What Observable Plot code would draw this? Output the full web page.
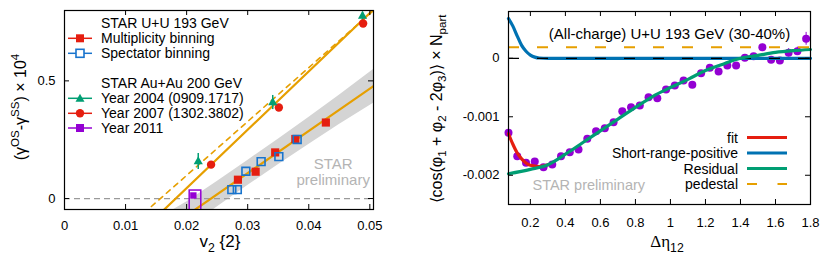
<!DOCTYPE html>
<html><head><meta charset="utf-8">
<script src="https://cdn.jsdelivr.net/npm/d3@7"></script>
<script src="https://cdn.jsdelivr.net/npm/@observablehq/plot@0.6"></script>
<style>
body{margin:0;background:#fff;}
#wrap{position:relative;width:830px;height:259px;overflow:hidden;background:#fff;}
#left,#right{position:absolute;top:0;}
#left{left:0;} #right{left:410px;}
svg text{font-family:"Liberation Sans",Arial,Helvetica,sans-serif;}
</style></head><body>
<div id="wrap"><div id="left"></div><div id="right"></div></div>
<script>
// ================= LEFT PANEL DATA =================
const multX = [0.0284, 0.0313, 0.0345, 0.0378, 0.0428];
const multY = [0.080, 0.114, 0.196, 0.253, 0.323];
const specX = [0.0274, 0.0283, 0.0297, 0.0322, 0.0351, 0.0381];
const specY = [0.038, 0.038, 0.116, 0.157, 0.178, 0.251];
const y2004X = [0.0219, 0.0341, 0.0488];
const y2004Y = [0.157, 0.408, 0.775];
const y2004Err = [0.034, 0.030, 0.017];
const y2007X = [0.0240, 0.0351, 0.0489];
const y2007Y = [0.144, 0.387, 0.744];
const y2011X = [0.0211];
const y2011Y = [0.013];
const y2011BoxX = [0.0205, 0.0224];
const y2011BoxY = [-0.06, 0.034];
const fitUUX = [0.0205, 0.0506];
const fitUUY = [-0.063, 0.478];
const fitAuX = [0.0160, 0.0506];
const fitAuY = [-0.055, 0.803];
const fitAuDashX = [0.0130, 0.0506];
const fitAuDashY = [-0.062, 0.799];
const bandX  = [0.015, 0.020, 0.025, 0.030, 0.035, 0.040, 0.045, 0.0506];
const bandLo = [-0.226, -0.130, -0.036, 0.055, 0.144, 0.230, 0.315, 0.405];
const bandHi = [-0.090, -0.015, 0.072, 0.162, 0.252, 0.344, 0.439, 0.548];
const leftXTicks = [0, 0.01, 0.02, 0.03, 0.04, 0.05];
const leftXLabels = ["0", "0.01", "0.02", "0.03", "0.04", "0.05"];
const leftYTicks = [0, 0.5];
const leftYLabels = ["0", "0.5"];
const leftLegend = ["STAR U+U 193 GeV", "Multiplicity binning", "Spectator binning", "STAR Au+Au 200 GeV", "Year 2004 (0909.1717)", "Year 2007 (1302.3802)", "Year 2011"];

// ================= RIGHT PANEL DATA =================
const detaX = [0.075,0.125,0.175,0.225,0.275,0.325,0.375,0.425,0.475,0.525,0.575,0.625,0.675,0.725,0.775,0.825,0.875,0.925,0.975,1.025,1.075,1.125,1.175,1.225,1.275,1.325,1.375,1.425,1.475,1.525,1.575,1.625,1.675,1.725,1.775];
const corrY = [-1.274e-3,-1.674e-3,-1.786e-3,-1.764e-3,-1.862e-3,-1.815e-3,-1.674e-3,-1.605e-3,-1.559e-3,-1.376e-3,-1.246e-3,-1.195e-3,-1.092e-3,-0.904e-3,-0.836e-3,-0.807e-3,-0.665e-3,-0.682e-3,-0.533e-3,-0.465e-3,-0.379e-3,-0.453e-3,-0.255e-3,-0.162e-3,-0.226e-3,-0.123e-3,-0.123e-3,0.009e-3,0.036e-3,0.190e-3,-0.026e-3,-0.038e-3,0.094e-3,0.121e-3,0.333e-3];
const corrErr = [0.03e-3,0.03e-3,0.03e-3,0.03e-3,0.03e-3,0.03e-3,0.03e-3,0.03e-3,0.03e-3,0.03e-3,0.03e-3,0.03e-3,0.03e-3,0.03e-3,0.03e-3,0.03e-3,0.03e-3,0.03e-3,0.03e-3,0.03e-3,0.03e-3,0.03e-3,0.03e-3,0.03e-3,0.03e-3,0.04e-3,0.04e-3,0.04e-3,0.04e-3,0.05e-3,0.05e-3,0.05e-3,0.07e-3,0.07e-3,0.11e-3];
const fitX = [0.075, 0.1, 0.125, 0.15, 0.175, 0.2, 0.25, 0.3];
const fitY = [-1.29e-3, -1.47e-3, -1.62e-3, -1.72e-3, -1.79e-3, -1.83e-3, -1.85e-3, -1.82e-3];
const srpX = [0.075, 0.1, 0.125, 0.15, 0.175, 0.2, 0.225, 0.25, 0.3, 1.8];
const srpY = [0.68e-3, 0.55e-3, 0.38e-3, 0.22e-3, 0.12e-3, 0.055e-3, 0.02e-3, 0.005e-3, 0, 0];
const resX = [0.075, 0.2, 0.3, 0.4, 0.5, 0.6, 0.7, 0.8, 0.9, 1.0, 1.1, 1.2, 1.3, 1.4, 1.5, 1.6, 1.7, 1.8];
const resY = [-1.975e-3, -1.90e-3, -1.82e-3, -1.64e-3, -1.44e-3, -1.24e-3, -1.04e-3, -0.84e-3, -0.65e-3, -0.50e-3, -0.36e-3, -0.21e-3, -0.10e-3, 0.0, 0.05e-3, 0.10e-3, 0.13e-3, 0.15e-3];
const pedestalY = [0.19e-3];
const rightXTicks = [0.2, 0.4, 0.6, 0.8, 1, 1.2, 1.4, 1.6, 1.8];
const rightXLabels = ["0.2", "0.4", "0.6", "0.8", "1", "1.2", "1.4", "1.6", "1.8"];
const rightYTicks = [0, -0.001, -0.002];
const rightYLabels = ["0", "-0.001", "-0.002"];
const rightLegend = ["fit", "Short-range-positive", "Residual", "pedestal"];

// ================= COLORS =================
const RED = "#e51e10", BLUE = "#1874cd", GREEN = "#009e73", PURPLE = "#9400d3", ORANGE = "#e69f00";
const SRPBLUE = "#0072b2";

const FONT = '"Liberation Sans", Arial, Helvetica, sans-serif';
const zip = (xs, ys, extra = {}) => xs.map((x, i) => {
  const o = {x, y: ys[i]};
  for (const k in extra) o[k] = extra[k][i];
  return o;
});

// ================= LEFT PLOT =================
const L = {w: 410, h: 259, mt: 10, mr: 37, mb: 50, ml: 64};
const LiW = L.w - L.ml - L.mr, LiH = L.h - L.mt - L.mb;
const labelOf = (ticks, labels) => d => labels[ticks.indexOf(d)];

const band = bandX.map((x, i) => ({x, lo: bandLo[i], hi: bandHi[i]}));
const left = Plot.plot({
  width: L.w, height: L.h,
  marginTop: L.mt, marginRight: L.mr, marginBottom: L.mb, marginLeft: L.ml,
  style: {fontSize: "13px", fontFamily: FONT, background: "white", color: "black"},
  x: {domain: [0, 0.0506]},
  y: {domain: [-0.0466, 0.799]},
  marks: [
    Plot.areaY(band, {x: "x", y1: "lo", y2: "hi", fill: "#d4d4d4", clip: true}),
    Plot.ruleY([0], {stroke: "#9a9a9a", strokeWidth: 1.2, strokeDasharray: "6,4"}),
    Plot.line(zip(fitUUX, fitUUY), {x: "x", y: "y", stroke: ORANGE, strokeWidth: 2.2, clip: true}),
    Plot.line(zip(fitAuX, fitAuY), {x: "x", y: "y", stroke: ORANGE, strokeWidth: 2.2, clip: true}),
    Plot.line(zip(fitAuDashX, fitAuDashY), {x: "x", y: "y", stroke: ORANGE, strokeWidth: 1.6, strokeDasharray: "5,5", clip: true}),
    Plot.rect([{x1: y2011BoxX[0], x2: y2011BoxX[1], y1: y2011BoxY[0], y2: y2011BoxY[1]}], {x1: "x1", x2: "x2", y1: "y1", y2: "y2", fill: "none", stroke: PURPLE, strokeWidth: 1.5, clip: true}),
    Plot.dot(zip(y2011X, y2011Y), {x: "x", y: "y", symbol: "square", r: 3.6, fill: PURPLE}),
    Plot.ruleX(zip(y2004X, y2004Y, {e: y2004Err}), {x: "x", y1: d => d.y - d.e, y2: d => d.y + d.e, stroke: GREEN, strokeWidth: 1.5}),
    Plot.dot(zip(y2007X, y2007Y), {x: "x", y: "y", r: 4.2, fill: RED}),
    Plot.dot(zip(y2004X, y2004Y), {x: "x", y: "y", symbol: "triangle", r: 3.4, fill: GREEN}),
    Plot.dot(zip(multX, multY), {x: "x", y: "y", symbol: "square", r: 4.6, fill: RED}),
    Plot.dot(zip(specX, specY), {x: "x", y: "y", symbol: "square", r: 4.4, fill: "none", stroke: BLUE, strokeWidth: 1.6}),
    Plot.text(["STAR", "preliminary"], {x: 0.0440, y: [0.145, 0.078], text: d => d, fill: "#b4b4b4", fontSize: 15, frameAnchor: "middle"}),
    Plot.frame({stroke: "black", strokeWidth: 1.2}),
    Plot.tickX(leftXTicks, {x: d => d, insetTop: LiH - 5, stroke: "black"}),
    Plot.tickX(leftXTicks, {x: d => d, insetBottom: LiH - 5, stroke: "black"}),
    Plot.tickY(leftYTicks, {y: d => d, insetRight: LiW - 5, stroke: "black"}),
    Plot.tickY(leftYTicks, {y: d => d, insetLeft: LiW - 5, stroke: "black"}),
    Plot.axisX(leftXTicks, {tickSize: 0, tickPadding: 11, tickFormat: labelOf(leftXTicks, leftXLabels), label: null, fontSize: 13}),
    Plot.axisY(leftYTicks, {tickSize: 0, tickPadding: 9, tickFormat: labelOf(leftYTicks, leftYLabels), label: null, fontSize: 13})
  ]
});
document.getElementById("left").appendChild(left);

// ================= RIGHT PLOT =================
const R = {w: 420, h: 259, mt: 11, mr: 20, mb: 55, ml: 98};
const RiW = R.w - R.ml - R.mr, RiH = R.h - R.mt - R.mb;
const pts = zip(detaX, corrY, {e: corrErr});
const right = Plot.plot({
  width: R.w, height: R.h,
  marginTop: R.mt, marginRight: R.mr, marginBottom: R.mb, marginLeft: R.ml,
  style: {fontSize: "13px", fontFamily: FONT, background: "white", color: "black"},
  x: {domain: [0.075, 1.8]},
  y: {domain: [-0.0025, 0.0008]},
  marks: [
    Plot.ruleX(pts, {x: "x", y1: d => d.y - d.e, y2: d => d.y + d.e, stroke: PURPLE, strokeWidth: 1}),
    Plot.dot(pts, {x: "x", y: "y", r: 4, fill: PURPLE}),
    Plot.line(zip(fitX, fitY), {x: "x", y: "y", stroke: RED, strokeWidth: 3.2, curve: "monotone-x"}),
    Plot.line(zip(srpX, srpY), {x: "x", y: "y", stroke: SRPBLUE, strokeWidth: 3.2, curve: "monotone-x"}),
    Plot.ruleY([0], {stroke: "black", strokeWidth: 1.3, strokeDasharray: "11,18"}),
    Plot.line(zip(resX, resY), {x: "x", y: "y", stroke: GREEN, strokeWidth: 3.2, curve: "monotone-x"}),
    Plot.ruleY(pedestalY, {stroke: ORANGE, strokeWidth: 2, strokeDasharray: "11,18"}),
    Plot.text(["(All-charge) U+U 193 GeV (30-40%)"], {frameAnchor: "top", dx: 10, dy: 17, text: d => d, fontSize: 15}),
    Plot.text(["STAR preliminary"], {frameAnchor: "bottom-left", dx: 24, dy: -15, text: d => d, fill: "#b4b4b4", fontSize: 14.5, textAnchor: "start"}),
    Plot.frame({stroke: "black", strokeWidth: 1.2}),
    Plot.tickX(rightXTicks, {x: d => d, insetTop: RiH - 5, stroke: "black"}),
    Plot.tickX(rightXTicks, {x: d => d, insetBottom: RiH - 5, stroke: "black"}),
    Plot.tickY(rightYTicks, {y: d => d, insetRight: RiW - 5, stroke: "black"}),
    Plot.tickY(rightYTicks, {y: d => d, insetLeft: RiW - 5, stroke: "black"}),
    Plot.axisX(rightXTicks, {tickSize: 0, tickPadding: 13, tickFormat: labelOf(rightXTicks, rightXLabels), label: null, fontSize: 13}),
    Plot.axisY(rightYTicks, {tickSize: 0, tickPadding: 9, tickFormat: labelOf(rightYTicks, rightYLabels), label: null, fontSize: 13})
  ]
});
document.getElementById("right").appendChild(right);

// ================= TITLES & LEGENDS (SVG text) =================
function richText(svg, x, y, parts, opts = {}) {
  const base = opts.size || 16;
  const t = d3.select(svg).append("text")
    .attr("font-size", base)
    .attr("font-family", opts.family || FONT)
    .attr("fill", "black")
    .attr("text-anchor", opts.anchor || "middle");
  if (opts.rotate) t.attr("transform", `translate(${x},${y}) rotate(-90)`);
  else t.attr("transform", `translate(${x},${y})`);
  let shift = 0;
  for (const p of parts) {
    const [txt, kind, fam] = Array.isArray(p) ? p : [p, "n"];
    const target = kind === "sup" ? -0.42 : kind === "sub" ? 0.28 : 0;
    const s = t.append("tspan").text(txt);
    if (kind !== "n") s.attr("font-size", "72%");
    if (fam) s.attr("font-family", fam);
    s.attr("dy", ((target - shift) * base) + "px");
    shift = target;
  }
  return t;
}

// Left y title
richText(left, 26, 107, ["(γ", ["OS", "sup"], "-γ", ["SS", "sup"], ") × 10", ["4", "sup"]], {size: 16, rotate: true});
// Left x title
richText(left, 220, 247, ["v", ["2", "sub"], " {2}"], {size: 17});
// Right y title
richText(right, 442 - 410, 109, ["⟨cos(φ", ["1", "sub"], " + φ", ["2", "sub"], " - 2φ", ["3", "sub"], ")⟩ × N", ["part", "sub"]], {size: 16, rotate: true});
// Right x title
richText(right, 667 - 410, 247, [["Δη", "n", '"Liberation Serif", "DejaVu Serif", serif'], ["12", "sub"]], {size: 17});

// Left legend
{
  const g = d3.select(left).append("g").attr("text-anchor", "start");
  const ys = [28.3, 43.3, 58.3, 88.3, 103.3, 118.3, 133];
  leftLegend.forEach((txt, i) => {
    g.append("text").attr("x", 101).attr("y", ys[i]).attr("text-anchor", "start").attr("font-size", 14).attr("font-family", FONT).attr("fill", "black").text(txt);
  });
  const items = [
    {i: 1, c: RED, sym: "sq"}, {i: 2, c: BLUE, sym: "hsq"},
    {i: 4, c: GREEN, sym: "tri"}, {i: 5, c: RED, sym: "circ"}, {i: 6, c: PURPLE, sym: "sq"}
  ];
  items.forEach(({i, c, sym}) => {
    const yy = ys[i] - 5;
    g.append("line").attr("x1", 68).attr("x2", 92).attr("y1", yy).attr("y2", yy).attr("stroke", c).attr("stroke-width", 1.5);
    if (sym === "sq") g.append("rect").attr("x", 76).attr("y", yy - 4).attr("width", 8).attr("height", 8).attr("fill", c);
    if (sym === "hsq") g.append("rect").attr("x", 76).attr("y", yy - 4).attr("width", 8).attr("height", 8).attr("fill", "white").attr("stroke", c).attr("stroke-width", 1.6);
    if (sym === "circ") g.append("circle").attr("cx", 80).attr("cy", yy).attr("r", 4.2).attr("fill", c);
    if (sym === "tri") g.append("path").attr("d", `M80,${yy - 4.5}L84.5,${yy + 3.5}L75.5,${yy + 3.5}Z`).attr("fill", c);
  });
}

// Right legend
{
  const g = d3.select(right).append("g");
  const cols = [RED, SRPBLUE, GREEN, ORANGE];
  rightLegend.forEach((txt, i) => {
    const yy = 137.5 + 15.5 * i;
    g.append("text").attr("x", 738 - 410).attr("y", yy + 5).attr("text-anchor", "end").attr("font-size", 14).attr("font-family", FONT).attr("fill", "black").text(txt);
    const ln = g.append("line").attr("x1", 747 - 410).attr("x2", 787 - 410).attr("y1", yy).attr("y2", yy)
      .attr("stroke", cols[i]).attr("stroke-width", i === 3 ? 2 : 3.2);
    if (i === 3) ln.attr("stroke-dasharray", "10,20.5");
  });
}
</script>
</body></html>
